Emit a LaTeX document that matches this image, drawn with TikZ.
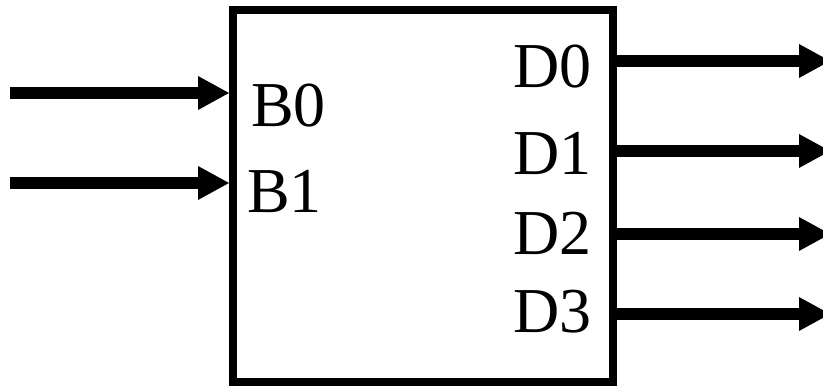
\documentclass[tikz,border=0pt]{standalone}
\usepackage{fontspec}
\setmainfont{Liberation Serif}
\usetikzlibrary{arrows.meta}
\begin{document}
\begin{tikzpicture}[x=1pt,y=1pt,
  block/.style={draw, line width=8pt, minimum width=380pt, minimum height=372pt, inner sep=0pt},
  sig/.style={line width=12pt, -{Triangle[length=31pt,width=34pt,line width=0pt]}},
  lbl/.style={font=\fontsize{64}{64}\selectfont, inner sep=0pt, anchor=base west}]
\useasboundingbox (0,0) rectangle (823,386);
\clip (0,0) rectangle (823,386);
% decoder block
\node[block] (box) at (423,190) {};
% input labels
\node[lbl] (b0) at (251,259) {B0};
\node[lbl] (b1) at (247,173) {B1};
% output labels
\node[lbl, anchor=base east] (d0) at (592,298) {D0};
\node[lbl, anchor=base east] (d1) at (592,211) {D1};
\node[lbl, anchor=base east] (d2) at (592,131) {D2};
\node[lbl, anchor=base east] (d3) at (592,53) {D3};
% input wires
\coordinate (i0) at (10,293);
\coordinate (i1) at (10,203);
\draw[sig] (i0) -- (box.west |- i0);
\draw[sig] (i1) -- (box.west |- i1);
% output wires
\coordinate (o0) at (830,325);
\coordinate (o1) at (830,235);
\coordinate (o2) at (830,152);
\coordinate (o3) at (830,72);
\draw[sig] (box.east |- o0) -- (o0);
\draw[sig] (box.east |- o1) -- (o1);
\draw[sig] (box.east |- o2) -- (o2);
\draw[sig] (box.east |- o3) -- (o3);
\end{tikzpicture}
\end{document}
